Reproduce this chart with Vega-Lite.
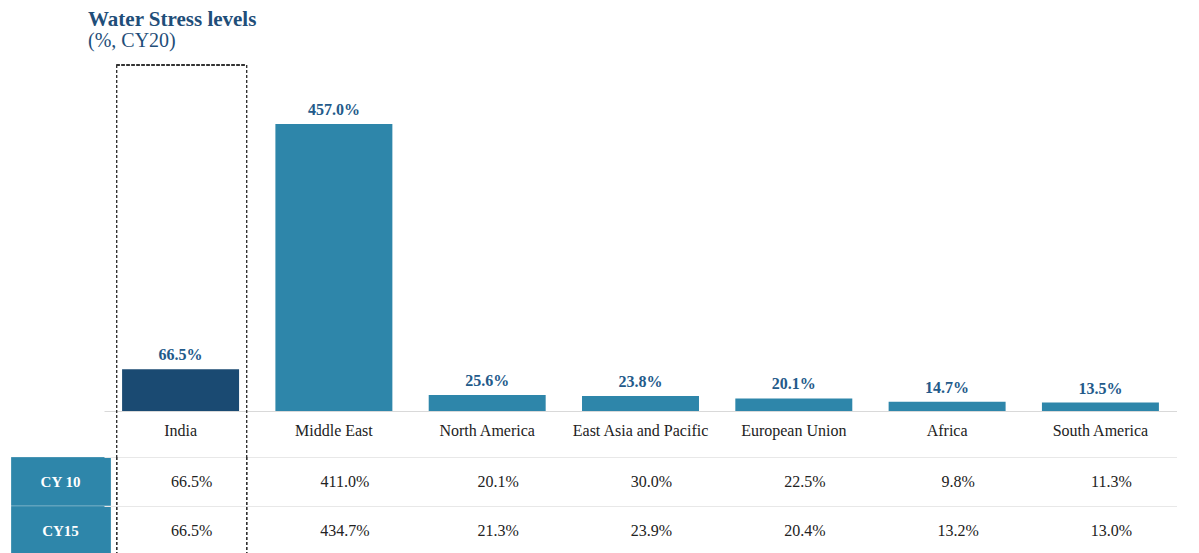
{
  "$schema": "https://vega.github.io/schema/vega-lite/v6.json",
  "background": "white",
  "padding": {"left": 10, "top": 8, "right": 0, "bottom": 0},
  "config": {"view": {"stroke": null}, "font": "Liberation Serif"},
  "datasets": {
    "bars": [
      {"region": "India", "cy20": 0.665},
      {"region": "Middle East", "cy20": 4.570},
      {"region": "North America", "cy20": 0.256},
      {"region": "East Asia and Pacific", "cy20": 0.238},
      {"region": "European Union", "cy20": 0.201},
      {"region": "Africa", "cy20": 0.147},
      {"region": "South America", "cy20": 0.135}
    ],
    "rows": [
      {"year": "CY 10"},
      {"year": "CY15"}
    ],
    "table": [
      {"region": "India", "year": "CY 10", "value": 0.665},
      {"region": "Middle East", "year": "CY 10", "value": 4.110},
      {"region": "North America", "year": "CY 10", "value": 0.201},
      {"region": "East Asia and Pacific", "year": "CY 10", "value": 0.300},
      {"region": "European Union", "year": "CY 10", "value": 0.225},
      {"region": "Africa", "year": "CY 10", "value": 0.098},
      {"region": "South America", "year": "CY 10", "value": 0.113},
      {"region": "India", "year": "CY15", "value": 0.665},
      {"region": "Middle East", "year": "CY15", "value": 4.347},
      {"region": "North America", "year": "CY15", "value": 0.213},
      {"region": "East Asia and Pacific", "year": "CY15", "value": 0.239},
      {"region": "European Union", "year": "CY15", "value": 0.204},
      {"region": "Africa", "year": "CY15", "value": 0.132},
      {"region": "South America", "year": "CY15", "value": 0.130}
    ]
  },
  "columns": 2,
  "spacing": 0,
  "bounds": "flush",
  "resolve": {"scale": {"x": "independent", "y": "independent"}},
  "concat": [
    {
      "width": 93,
      "height": 392,
      "data": {"values": []},
      "mark": "point",
      "encoding": {}
    },
    {
      "width": 1073,
      "height": 392,
      "title": {
        "text": "Water Stress levels",
        "subtitle": "(%, CY20)",
        "anchor": "start",
        "frame": "group",
        "dx": -16,
        "offset": 14,
        "font": "Liberation Serif",
        "fontSize": 21,
        "fontWeight": "bold",
        "color": "#1F4E79",
        "subtitleFont": "Liberation Serif",
        "subtitleFontSize": 20,
        "subtitleColor": "#1F4E79",
        "subtitlePadding": 1
      },
      "data": {"name": "bars"},
      "encoding": {
        "x": {
          "field": "region",
          "type": "nominal",
          "sort": ["India", "Middle East", "North America", "East Asia and Pacific", "European Union", "Africa", "South America"],
          "scale": {"paddingInner": 0.237, "paddingOuter": 0.118},
          "axis": {
            "title": null,
            "labelAngle": 0,
            "ticks": false,
            "tickSize": 0,
            "offset": -46,
            "domainColor": "#D9D9D9",
            "domainWidth": 1,
            "labelFont": "Liberation Serif",
            "labelFontSize": 16,
            "labelColor": "#222222",
            "labelPadding": 11,
            "grid": false
          }
        }
      },
      "layer": [
        {
          "mark": {"type": "bar"},
          "encoding": {
            "y": {"field": "cy20", "type": "quantitative", "scale": {"domain": [-0.732, 5.51], "nice": false, "zero": false}, "axis": null},
            "color": {
              "field": "region",
              "type": "nominal",
              "scale": {
                "domain": ["India", "Middle East", "North America", "East Asia and Pacific", "European Union", "Africa", "South America"],
                "range": ["#1A4A72", "#2E86AA", "#2E86AA", "#2E86AA", "#2E86AA", "#2E86AA", "#2E86AA"]
              },
              "legend": null
            }
          }
        },
        {
          "mark": {"type": "text", "baseline": "bottom", "dy": -6, "font": "Liberation Serif", "fontSize": 16, "fontWeight": "bold", "color": "#235A8A"},
          "encoding": {
            "y": {"field": "cy20", "type": "quantitative"},
            "text": {"field": "cy20", "type": "quantitative", "format": ".1%"}
          }
        },
        {
          "mark": {"type": "rule", "strokeDash": [3, 2], "color": "#333333", "strokeWidth": 1, "xOffset": -64},
          "encoding": {"x": {"datum": "India"}}
        },
        {
          "mark": {"type": "rule", "strokeDash": [3, 2], "color": "#333333", "strokeWidth": 1, "xOffset": 66},
          "encoding": {"x": {"datum": "India"}}
        },
        {
          "mark": {"type": "rule", "strokeDash": [3, 2], "color": "#333333", "strokeWidth": 1, "xOffset": -64, "x2Offset": 66},
          "encoding": {"x": {"datum": "India"}, "x2": {"datum": "India"}, "y": {"datum": 5.51}}
        }
      ]
    },
    {
      "width": 93,
      "height": 98,
      "data": {"name": "rows"},
      "encoding": {
        "y": {
          "field": "year",
          "type": "nominal",
          "sort": ["CY 10", "CY15"],
          "scale": {"paddingInner": 0, "paddingOuter": 0},
          "axis": null
        }
      },
      "layer": [
        {
          "mark": {"type": "rect", "fill": "#2E86AA", "stroke": "white", "strokeOpacity": 0.25, "strokeWidth": 1, "x2Offset": 7},
          "encoding": {"x": {"value": 0}, "x2": {"value": "width"}}
        },
        {
          "mark": {"type": "text", "dx": 3, "font": "Liberation Serif", "fontSize": 15, "fontWeight": "bold", "color": "white"},
          "encoding": {"text": {"field": "year", "type": "nominal"}}
        }
      ]
    },
    {
      "width": 1073,
      "height": 98,
      "data": {"name": "table"},
      "encoding": {
        "x": {
          "field": "region",
          "type": "nominal",
          "sort": ["India", "Middle East", "North America", "East Asia and Pacific", "European Union", "Africa", "South America"],
          "scale": {"paddingInner": 0.237, "paddingOuter": 0.118},
          "axis": null
        }
      },
      "layer": [
        {
          "mark": {"type": "text", "dx": 11, "font": "Liberation Serif", "fontSize": 16, "color": "#222222"},
          "encoding": {
            "y": {
              "field": "year",
              "type": "nominal",
              "sort": ["CY 10", "CY15"],
              "scale": {"paddingInner": 0, "paddingOuter": 0},
              "axis": {
                "title": null,
                "domain": false,
                "ticks": false,
                "labels": false,
                "tickBand": "extent",
                "grid": true,
                "gridColor": "#E8E8E8",
                "gridWidth": 1
              }
            },
            "text": {"field": "value", "type": "quantitative", "format": ".1%"}
          }
        },
        {
          "mark": {"type": "rule", "strokeDash": [3, 2], "color": "#333333", "strokeWidth": 1, "xOffset": -64},
          "encoding": {"x": {"datum": "India"}}
        },
        {
          "mark": {"type": "rule", "strokeDash": [3, 2], "color": "#333333", "strokeWidth": 1, "xOffset": 66},
          "encoding": {"x": {"datum": "India"}}
        }
      ]
    }
  ]
}
